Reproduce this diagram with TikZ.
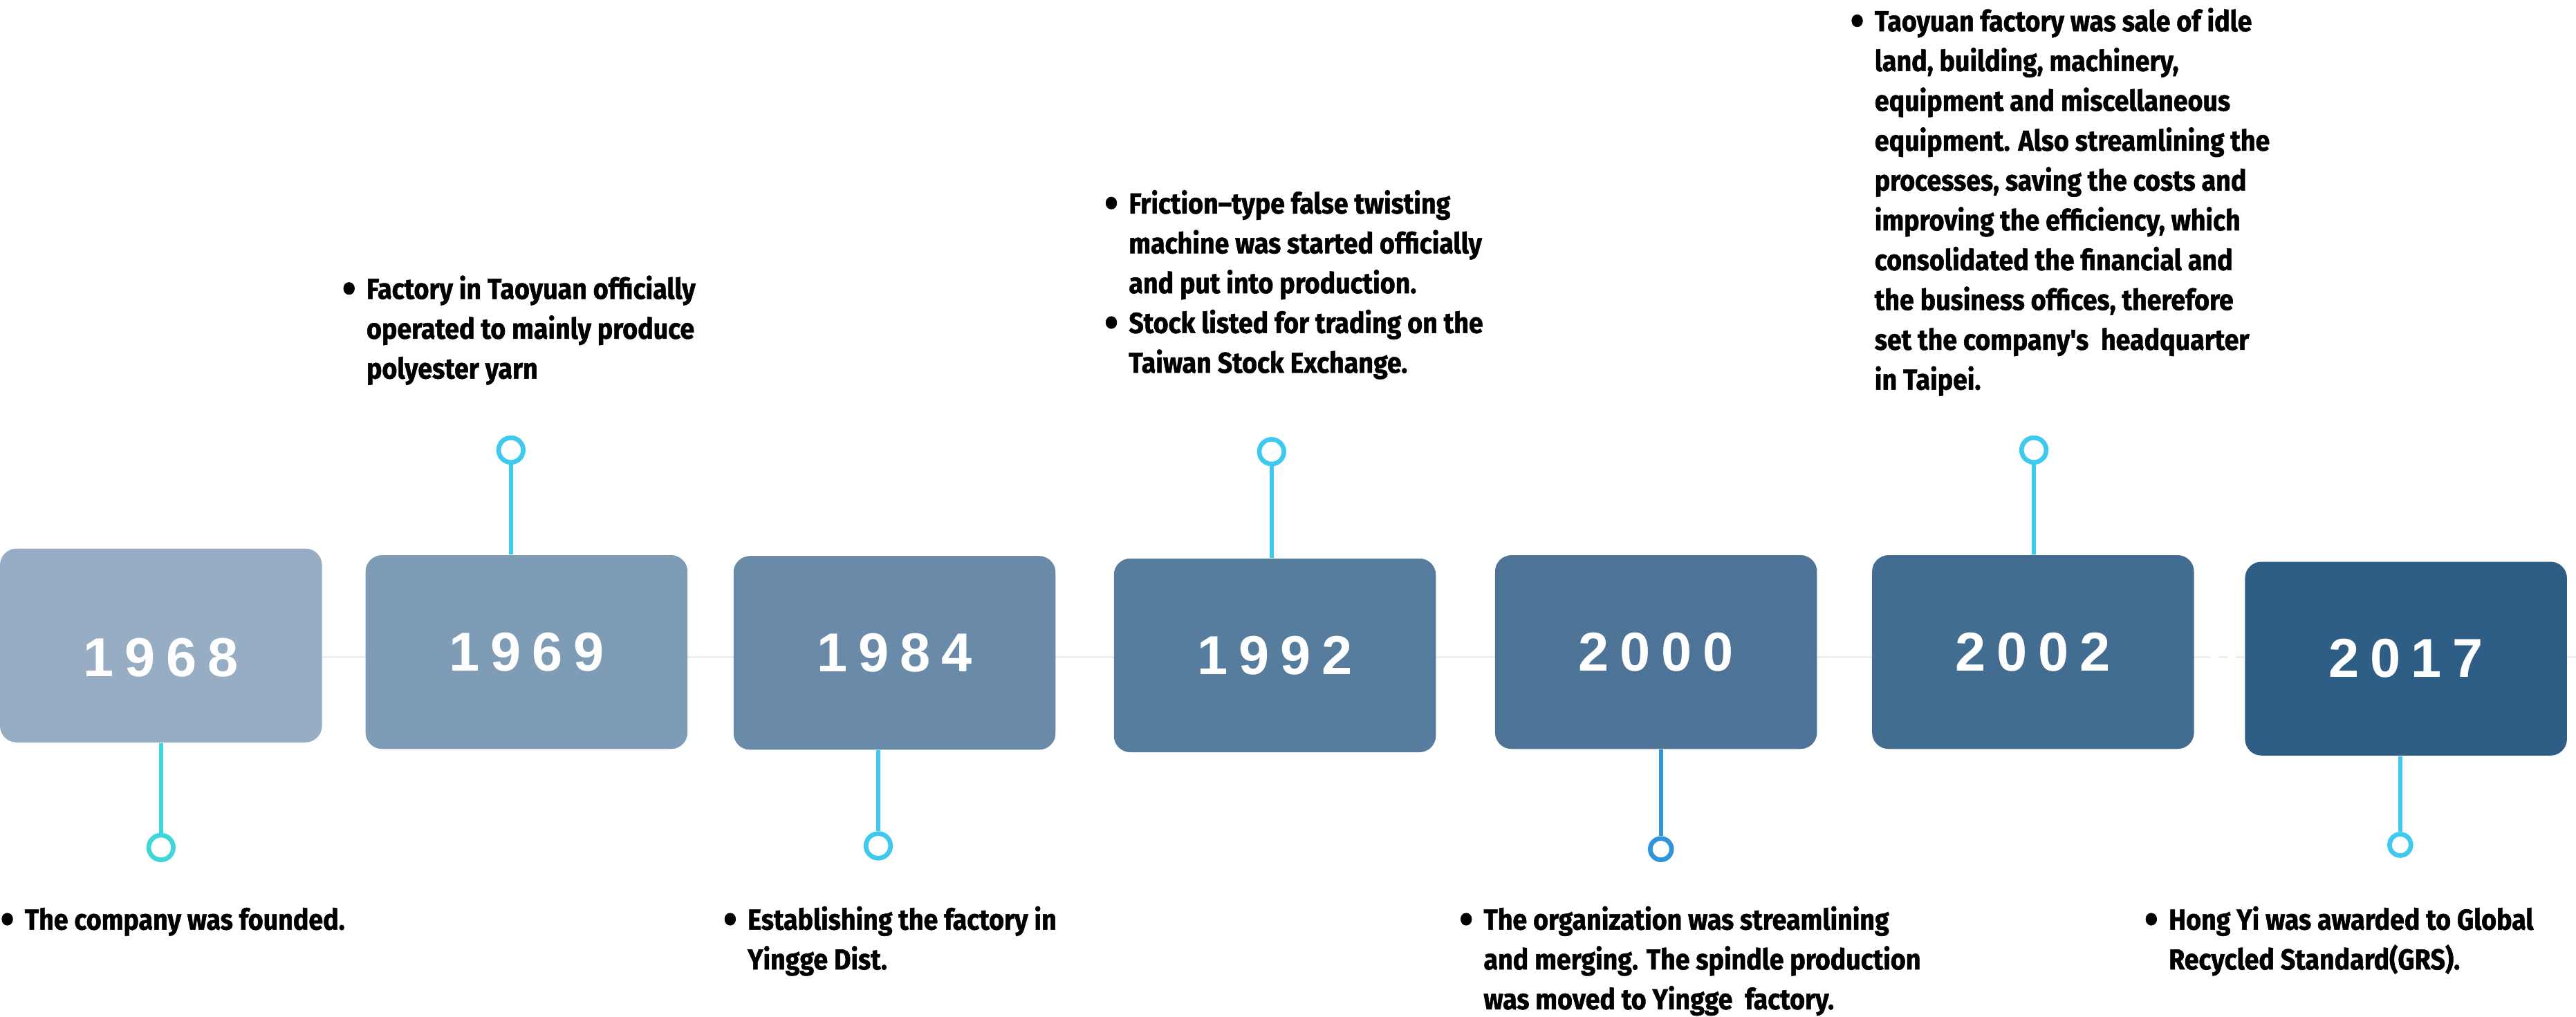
\documentclass[tikz,border=0pt]{standalone}
\usepackage{fontspec}
\usepackage{graphicx}
\usepackage{tikz}

\newfontfamily\notefont{Fira Sans}[FakeStretch=0.9, FakeBold=1.2]
\newfontfamily\yearfont{Liberation Sans}[LetterSpace=20]

\definecolor{box1}{HTML}{97ADC3}
\definecolor{box2}{HTML}{7F9CB6}
\definecolor{box3}{HTML}{6A8AAA}
\definecolor{box4}{HTML}{567C9E}
\definecolor{box5}{HTML}{4D7397}
\definecolor{box6}{HTML}{436C91}
\definecolor{box7}{HTML}{2E5D86}
\definecolor{pincyan}{HTML}{3DCAEE}
\definecolor{pinteal}{HTML}{3ED6D8}
\definecolor{pinblue}{HTML}{3094DA}
\definecolor{railgray}{HTML}{EEEEEE}

\newcommand{\bul}{\makebox[8.4pt][l]{\raisebox{-1.5pt}{\scalebox{1.5}{\textbullet}}}}
\newcommand{\ind}{\hspace*{8.4pt}}

\begin{document}
\begin{tikzpicture}[x=0.02cm, y=-0.02cm,
    yearbox/.style={rectangle, rounded corners=0.2cm, minimum width=3.92cm, minimum height=2.36cm,
        inner sep=0pt, text=white, font=\yearfont\bfseries\fontsize{19}{19}\selectfont},
    pinring/.style={circle, draw=#1, fill=white, line width=1.6pt, inner sep=0pt, minimum size=0.3cm},
    stem/.style={line width=1.4pt},
    note/.style={anchor=base west, inner sep=0pt, font=\notefont\bfseries\fontsize{10}{13.8}\selectfont}]
        \useasboundingbox (0,0) rectangle (1568,619);

        % --- Draw the time axis ---
        \draw[railgray, line width=0.8pt] (0,400) -- (1340,400);
        \draw[railgray, line width=0.8pt, dashed] (1340,400) -- (1370,400);
        \draw[railgray, line width=0.8pt] (1370,400) -- (1568,400);
        % ---

        % --- Draw year boxes ---
        \node[yearbox, fill=box1] (y68) at (98,393) {\raisebox{-10.8pt}[0pt][0pt]{1968}};
        \node[yearbox, fill=box2] (y69) at (320.5,397) {1969};
        \node[yearbox, fill=box3] (y84) at (544.5,397.5) {1984};
        \node[yearbox, fill=box4] (y92) at (776,399) {1992};
        \node[yearbox, fill=box5] (y00) at (1008,397) {2000};
        \node[yearbox, fill=box6] (y02) at (1237.5,397) {2002};
        \node[yearbox, fill=box7] (y17) at (1464.5,401) {2017};
        % ---

        % --- Draw pins above and below the boxes ---
        \node[pinring=pinteal] (c68) at (98,516) {};
        \draw[stem, pinteal] (c68) -- (c68 |- y68.south);
        \node[pinring=pincyan] (c69) at (311,274) {};
        \draw[stem, pincyan] (c69) -- (c69 |- y69.north);
        \node[pinring=pincyan] (c84) at (534.6,515) {};
        \draw[stem, pincyan] (c84) -- (c84 |- y84.south);
        \node[pinring=pincyan] (c92) at (774,275) {};
        \draw[stem, pincyan] (c92) -- (c92 |- y92.north);
        \node[pinring=pinblue, minimum size=0.26cm] (c00) at (1011,517) {};
        \draw[stem, pinblue] (c00) -- (c00 |- y00.south);
        \node[pinring=pincyan] (c02) at (1238,274) {};
        \draw[stem, pincyan] (c02) -- (c02 |- y02.north);
        \node[pinring=pincyan, minimum size=0.26cm] (c17) at (1461,514.4) {};
        \draw[stem, pincyan] (c17) -- (c17 |- y17.south);
        % ---

        % --- Draw the notes ---
        \node[note] (n68) at (0,566) {\begin{tabular}[t]{@{}l@{}}
            \bul The company was founded.
        \end{tabular}};
        \node[note] (n69) at (208,182) {\begin{tabular}[t]{@{}l@{}}
            \bul Factory in Taoyuan officially\\
            \ind operated to mainly produce\\
            \ind polyester yarn
        \end{tabular}};
        \node[note] (n84) at (440,566) {\begin{tabular}[t]{@{}l@{}}
            \bul Establishing the factory in\\
            \ind Yingge Dist.
        \end{tabular}};
        \node[note] (n92) at (672,130) {\begin{tabular}[t]{@{}l@{}}
            \bul Friction\textendash type false twisting\\
            \ind machine was started officially\\
            \ind and put into production.\\
            \bul Stock listed for trading on the\\
            \ind Taiwan Stock Exchange.
        \end{tabular}};
        \node[note] (n00) at (888,566) {\begin{tabular}[t]{@{}l@{}}
            \bul The organization was streamlining\\
            \ind and merging. The spindle production\\
            \ind was moved to Yingge\ \ factory.
        \end{tabular}};
        \node[note] (n02) at (1126,19) {\begin{tabular}[t]{@{}l@{}}
            \bul Taoyuan factory was sale of idle\\
            \ind land, building, machinery,\\
            \ind equipment and miscellaneous\\
            \ind equipment. Also streamlining the\\
            \ind processes, saving the costs and\\
            \ind improving the efficiency, which\\
            \ind consolidated the financial and\\
            \ind the business offices, therefore\\
            \ind set the company's\ \ headquarter\\
            \ind in Taipei.
        \end{tabular}};
        \node[note] (n17) at (1305,566) {\begin{tabular}[t]{@{}l@{}}
            \bul Hong Yi was awarded to Global\\
            \ind Recycled Standard(GRS).
        \end{tabular}};
        % ---
    \end{tikzpicture}
\end{document}
